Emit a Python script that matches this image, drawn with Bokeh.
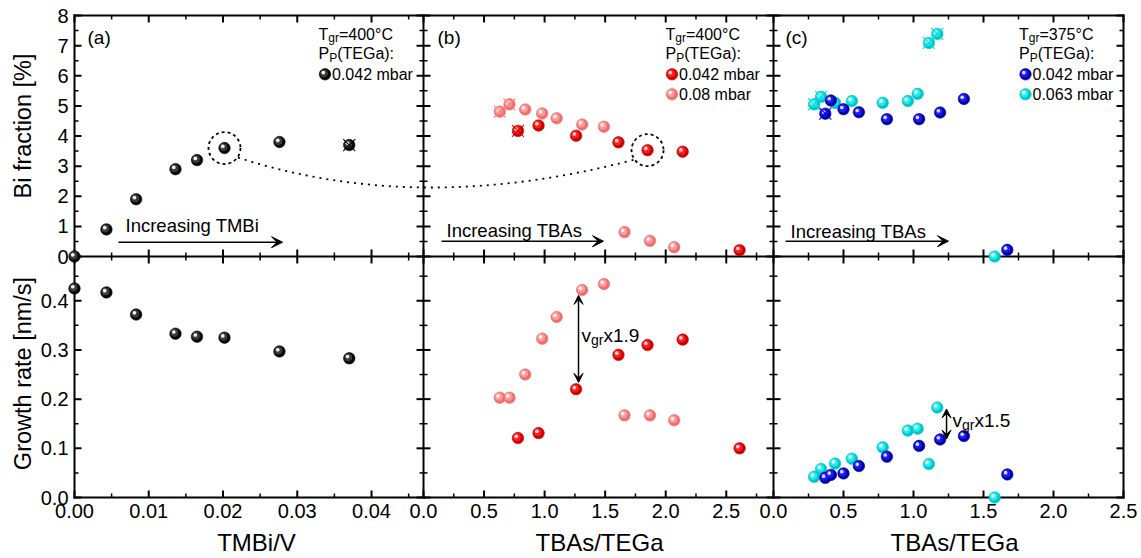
import math
from bokeh.plotting import figure
from bokeh.models import Range1d, Label, Arrow, VeeHead, ColumnDataSource
from bokeh.core.properties import value
from bokeh.transform import dodge
from bokeh.embed import file_html
from bokeh.resources import INLINE

# ---------------- data ----------------
# (a) Tgr=400C, PP(TEGa)=0.042 mbar, vs TMBi/V
a_x = [0.0, 0.0043, 0.0083, 0.0136, 0.0165, 0.0202, 0.0276, 0.0370]
a_bi = [0.0, 0.90, 1.90, 2.90, 3.20, 3.60, 3.80, 3.70]
a_gr = [0.425, 0.417, 0.372, 0.333, 0.327, 0.325, 0.297, 0.283]
a_crossed = [7]
a_circled = 5

# (b) Tgr=400C, 0.042 mbar (red) and 0.08 mbar (pink), vs TBAs/TEGa
b1_x = [0.78, 0.95, 1.26, 1.61, 1.85, 2.14, 2.61]
b1_bi = [4.17, 4.35, 4.01, 3.79, 3.53, 3.48, 0.21]
b1_gr = [0.121, 0.131, 0.220, 0.290, 0.310, 0.321, 0.100]
b1_crossed = [0]
b1_circled = 4

b2_x = [0.63, 0.71, 0.84, 0.98, 1.10, 1.31, 1.49, 1.66, 1.87, 2.07]
b2_bi = [4.81, 5.05, 4.88, 4.75, 4.59, 4.38, 4.31, 0.81, 0.52, 0.31]
b2_gr = [0.203, 0.203, 0.250, 0.323, 0.367, 0.422, 0.434, 0.167, 0.167, 0.157]
b2_crossed = [0, 1]

# (c) Tgr=375C, 0.042 mbar (blue) and 0.063 mbar (cyan)
c1_x = [0.37, 0.41, 0.50, 0.61, 0.81, 1.04, 1.19, 1.36, 1.67]
c1_bi = [4.74, 5.18, 4.89, 4.79, 4.56, 4.56, 4.78, 5.23, 0.22]
c1_gr = [0.040, 0.046, 0.049, 0.064, 0.083, 0.105, 0.118, 0.125, 0.047]
c1_crossed = [0]

c2_x = [0.29, 0.34, 0.44, 0.56, 0.78, 0.96, 1.03, 1.11, 1.17, 1.58]
c2_bi = [5.05, 5.30, 5.10, 5.16, 5.10, 5.16, 5.40, 7.09, 7.39, 0.0]
c2_gr = [0.042, 0.058, 0.069, 0.079, 0.102, 0.136, 0.140, 0.068, 0.183, 0.0]
c2_crossed = [0, 1, 7, 8]

# axis extents and ticks
xa_max, xb_max, xc_max = 0.047, 2.89, 2.5
yt_max, yb_max = 8.0, 0.49
xa_ticks = [0.0, 0.01, 0.02, 0.03, 0.04]
xa_labels = ["0.00", "0.01", "0.02", "0.03", "0.04"]
xa_minor = [0.005, 0.015, 0.025, 0.035, 0.045]
xb_ticks = [0.0, 0.5, 1.0, 1.5, 2.0, 2.5]
xb_labels = ["0.0", "0.5", "1.0", "1.5", "2.0", "2.5"]
xb_minor = [0.25, 0.75, 1.25, 1.75, 2.25, 2.75]
xc_ticks = [0.0, 0.5, 1.0, 1.5, 2.0, 2.5]
xc_labels = ["0.0", "0.5", "1.0", "1.5", "2.0", "2.5"]
xc_minor = [0.25, 0.75, 1.25, 1.75, 2.25]
yt_ticks = [0, 1, 2, 3, 4, 5, 6, 7, 8]
yt_labels = ["0", "1", "2", "3", "4", "5", "6", "7", "8"]
yt_minor = [0.5, 1.5, 2.5, 3.5, 4.5, 5.5, 6.5, 7.5]
yb_ticks = [0.0, 0.1, 0.2, 0.3, 0.4]
yb_labels = ["0.0", "0.1", "0.2", "0.3", "0.4"]
yb_minor = [0.05, 0.15, 0.25, 0.35, 0.45]

# ---------------- layout (canvas pixels, y up) ----------------
FONT = "Liberation Sans"
CW, CH = 1141, 558
FX0, FX1, FY0, FY1 = 74, 1123, 61, 543
COL_X0 = [74, 423, 773]
COL_W = [349, 350, 350]
ROW_Y0 = {"t": 302, "b": 61}
ROW_H = 241
XMAX = [xa_max, xb_max, xc_max]
YMAX = {"t": yt_max, "b": yb_max}
XR = ["xa", "xb", "xc"]
MAJ, MIN = 7, 4


def px_x(v, c):
    return COL_X0[c] + v / XMAX[c] * COL_W[c]


def px_y(v, r):
    return ROW_Y0[r] + v / YMAX[r] * ROW_H


def sy(y_screen):
    return CH - y_screen


p = figure(width=CW, height=CH, x_range=Range1d(0, CW), y_range=Range1d(0, CH),
           x_axis_type=None, y_axis_type=None, output_backend="svg",
           toolbar_location=None, min_border=0)
p.outline_line_color = None
p.background_fill_color = "white"
p.border_fill_color = "white"

for i in range(3):
    s = XMAX[i] / COL_W[i]
    p.extra_x_ranges[XR[i]] = Range1d(-COL_X0[i] * s, (CW - COL_X0[i]) * s)
for r in ("t", "b"):
    s = YMAX[r] / ROW_H
    p.extra_y_ranges["y" + r] = Range1d(-ROW_Y0[r] * s, (CH - ROW_Y0[r]) * s)

# tick positions in canvas pixels
xt_pos, xt_lab, xm_pos = [], [], []
for c, (tk, lb, mn) in enumerate([(xa_ticks, xa_labels, xa_minor),
                                  (xb_ticks, xb_labels, xb_minor),
                                  (xc_ticks, xc_labels, xc_minor)]):
    xt_pos += [px_x(v, c) for v in tk]
    xt_lab += lb
    xm_pos += [px_x(v, c) for v in mn]
yt_pos, yt_lab, ym_pos = [], [], []
for r, (tk, lb, mn) in [("t", (yt_ticks, yt_labels, yt_minor)),
                        ("b", (yb_ticks, yb_labels, yb_minor))]:
    yt_pos += [px_y(v, r) for v in tk]
    yt_lab += lb
    ym_pos += [px_y(v, r) for v in mn]

# ---- tick marks (inward on outer edges, crossing on inner boundaries) ----
YMID = ROW_Y0["t"]
for plist, L, lw in [(xt_pos, MAJ, 2), (xm_pos, MIN, 1.5)]:
    x0s, y0s, x1s, y1s = [], [], [], []
    for x in plist:
        x0s += [x, x, x]
        x1s += [x, x, x]
        y0s += [FY0, FY1, YMID - L]
        y1s += [FY0 + L, FY1 - L, YMID + L]
    p.segment(x0=x0s, y0=y0s, x1=x1s, y1=y1s, line_color="black", line_width=lw)
for plist, L, lw in [(yt_pos, MAJ, 2), (ym_pos, MIN, 1.5)]:
    x0s, y0s, x1s, y1s = [], [], [], []
    for y in plist:
        y0s += [y] * 4
        y1s += [y] * 4
        x0s += [FX0, FX1, COL_X0[1] - L, COL_X0[2] - L]
        x1s += [FX0 + L, FX1 - L, COL_X0[1] + L, COL_X0[2] + L]
    p.segment(x0=x0s, y0=y0s, x1=x1s, y1=y1s, line_color="black", line_width=lw)

# ---- panel frame lines ----
hx0, hy0, hx1, hy1 = [], [], [], []
for y in (FY0, YMID, FY1):
    hx0.append(FX0); hx1.append(FX1); hy0.append(y); hy1.append(y)
for x in (FX0, COL_X0[1], COL_X0[2], FX1):
    hx0.append(x); hx1.append(x); hy0.append(FY0); hy1.append(FY1)
p.segment(x0=hx0, y0=hy0, x1=hx1, y1=hy1, line_color="black", line_width=2,
          line_cap="square")

# ---- tick labels ----
p.text(x=xt_pos, y=[sy(510.5)] * len(xt_pos), text=xt_lab, text_font=value(FONT),
       text_font_size="20px", text_align="center", text_baseline="middle",
       text_color="black")
p.text(x=[FX0 - 6] * len(yt_pos), y=yt_pos, text=yt_lab, text_font=value(FONT),
       text_font_size="20px", text_align="right", text_baseline="middle",
       text_color="black")

# ---------------- markers ----------------
PAL = {
    "black": ("#050505", "#3c3c3c", "#f2f2f2", "#000000"),
    "red": ("#c80000", "#ff1e1e", "#ffd6d6", "#e00000"),
    "pink": ("#ee6e6e", "#ff9a9a", "#fff2f2", "#ff7f7f"),
    "blue": ("#0000a8", "#1c1cf0", "#d8d8ff", "#0000dd"),
    "cyan": ("#00c4cc", "#22eeee", "#eaffff", "#00dede"),
}
MS = 11.5


def spheres(xs, ys, xr, yr, col, upx, upy, size=MS):
    pal = PAL[col]
    src = ColumnDataSource(dict(x=list(xs), y=list(ys)))
    common = dict(source=src, x_range_name=xr, y_range_name=yr)
    p.scatter("x", "y", size=size, fill_color=pal[0], line_color=pal[0],
              line_width=0.6, **common)
    p.scatter(x=dodge("x", -1.0 * upx), y=dodge("y", 1.0 * upy), size=size * 0.68,
              fill_color=pal[1], line_color=None, **common)
    p.scatter(x=dodge("x", -1.7 * upx), y=dodge("y", 1.7 * upy), size=size * 0.32,
              fill_color=pal[2], line_color=None, **common)


def crosses(xs, ys, idx, xr, yr, col):
    p.scatter(x=[xs[i] for i in idx], y=[ys[i] for i in idx], marker="x", size=17,
              line_color=PAL[col][3], line_width=1.1, x_range_name=xr, y_range_name=yr)


series = [
    (0, a_x, a_bi, a_gr, a_crossed, "black"),
    (1, b2_x, b2_bi, b2_gr, b2_crossed, "pink"),
    (1, b1_x, b1_bi, b1_gr, b1_crossed, "red"),
    (2, c2_x, c2_bi, c2_gr, c2_crossed, "cyan"),
    (2, c1_x, c1_bi, c1_gr, c1_crossed, "blue"),
]
for c, xs, bi, gr, cr, col in series:
    upx = XMAX[c] / COL_W[c]
    spheres(xs, bi, XR[c], "yt", col, upx, YMAX["t"] / ROW_H)
    spheres(xs, gr, XR[c], "yb", col, upx, YMAX["b"] / ROW_H)
    crosses(xs, bi, cr, XR[c], "yt", col)

# dashed circles around the compared points
for xx, yy, xr in [(a_x[a_circled], a_bi[a_circled], "xa"),
                   (b1_x[b1_circled], b1_bi[b1_circled], "xb")]:
    p.scatter(x=[xx], y=[yy], x_range_name=xr, y_range_name="yt",
              marker="circle", size=32, fill_color=None, line_color="black",
              line_width=1.8, line_dash="3 3")

# dotted connector between the circled points
ax0, ay0 = px_x(a_x[a_circled], 0), px_y(a_bi[a_circled], "t")
bx0, by0 = px_x(b1_x[b1_circled], 1), px_y(b1_bi[b1_circled], "t")
off_x, off_y = 13.5, 9.5
csx, csy = ax0 + off_x, ay0 - off_y
cex, cey = bx0 - off_x, by0 - off_y
curve_min = sy(187)
ccx = 419
ccy = 2 * curve_min - 0.5 * (csy + cey)
p.quadratic(x0=[csx], y0=[csy], x1=[cex], y1=[cey], cx=[ccx], cy=[ccy],
            line_color="black", line_width=1.8, line_dash="2 5")

# ---------------- annotations ----------------
AW = {"T": 611, "g": 556, "r": 333, "=": 584, "°": 400, "C": 722, "P": 667, "(": 333,
      "E": 667, "G": 778, "a": 556, ")": 333, ":": 278, "v": 500, "x": 500, ".": 278,
      " ": 278}
for d in "0123456789":
    AW[d] = 556


def twidth(s, size):
    return sum(AW.get(ch, 556) for ch in s) * size / 1000.0


def label(x, y, text, size, align="left", angle=0.0):
    p.add_layout(Label(x=x, y=y, text=text, text_font=FONT, text_font_size=f"{size}px",
                       text_color="black", text_align=align, text_baseline="middle",
                       angle=angle))


def rich(x, y, parts):
    for txt, size, dy in parts:
        label(x, y + dy, txt, size)
        x += twidth(txt, size)


# panel letters
for xl, t in [(87, "(a)"), (437, "(b)"), (785, "(c)")]:
    label(xl, sy(36.5), t, 19)

# legends
LEG_X = [318, 665, 1018.5]
TEMPS = ["400", "400", "375"]
LEG_ITEMS = [[("black", "0.042 mbar")],
             [("red", "0.042 mbar"), ("pink", "0.08 mbar")],
             [("blue", "0.042 mbar"), ("cyan", "0.063 mbar")]]
for c in range(3):
    x0 = LEG_X[c]
    rich(x0, sy(33.5), [("T", 16, 0), ("gr", 12, -4), ("=" + TEMPS[c] + "°C", 16, 0)])
    rich(x0, sy(53), [("P", 16, 0), ("P", 12, -4), ("(TEGa):", 16, 0)])
    for k, (col, txt) in enumerate(LEG_ITEMS[c]):
        yy = sy(73.8 + 20 * k)
        spheres([x0 + 6.5], [yy], "default", "default", col, 1.0, 1.0)
        label(x0 + 13.5, yy, txt, 16)

# increasing arrows
INC = [(118, 282, 241.7, 125, 224.5, "Increasing TMBi"),
       (441, 603, 240.7, 446, 230, "Increasing TBAs"),
       (785, 948, 240.7, 790, 230.5, "Increasing TBAs")]
for xs_, xe_, ya_, tx, ty, txt in INC:
    p.add_layout(Arrow(end=VeeHead(size=11, fill_color="black", line_color="black",
                                   line_width=1),
                       x_start=xs_, y_start=sy(ya_), x_end=xe_, y_end=sy(ya_),
                       line_color="black", line_width=1.5))
    label(tx, sy(ty), txt, 18.5)

# growth-rate ratio arrows
for (xa_, y0_, y1_, xr) in [(1.28, 0.234, 0.411, "xb"), (1.236, 0.119, 0.180, "xc")]:
    p.add_layout(Arrow(start=VeeHead(size=9, fill_color="black", line_color="black", line_width=1),
                       end=VeeHead(size=9, fill_color="black", line_color="black", line_width=1),
                       x_start=xa_, y_start=y0_, x_end=xa_, y_end=y1_,
                       x_range_name=xr, y_range_name="yb",
                       line_color="black", line_width=1.5))
rich(581, sy(335), [("v", 19, 0), ("gr", 14, -4.5), ("x1.9", 19, 0)])
rich(952, sy(420), [("v", 19, 0), ("gr", 14, -4.5), ("x1.5", 19, 0)])

# axis titles
label(22, sy(125.5), "Bi fraction [%]", 23.5, align="center", angle=math.pi / 2)
label(22, sy(373), "Growth rate [nm/s]", 23.5, align="center", angle=math.pi / 2)
label(256, sy(541.5), "TMBi/V", 24, align="center")
label(599, sy(541.5), "TBAs/TEGa", 24, align="center")
label(954, sy(541.5), "TBAs/TEGa", 24, align="center")

open("out.html", "w").write(file_html(p, INLINE))
